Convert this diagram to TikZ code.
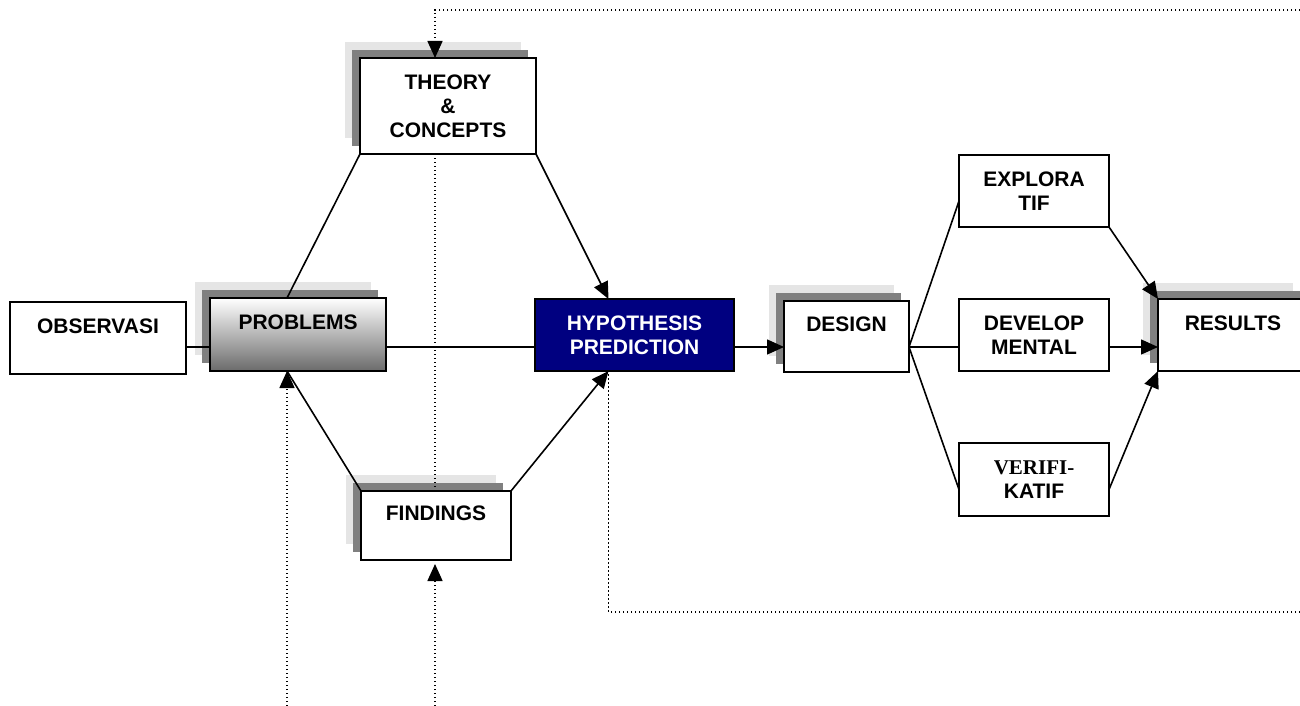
\documentclass[tikz,border=0pt]{standalone}
\usepackage{fontspec}
\setmainfont{Liberation Sans}
\newfontfamily\serifb{Liberation Serif}
\usetikzlibrary{arrows.meta,backgrounds}
\definecolor{navyb}{RGB}{0,0,128}
\definecolor{shdark}{RGB}{128,128,128}
\definecolor{shlight}{RGB}{229,229,229}
\begin{document}
\begin{tikzpicture}[x=1pt,y=-1pt,
 box/.style={draw=black, line width=1.8pt, fill=white, rectangle, anchor=north west, inner sep=0pt, outer sep=0pt, align=center, font=\fontsize{21}{24}\selectfont\bfseries},
 conn/.style={line width=1.6pt},
 arr/.style={conn, -{Triangle[length=17pt,width=15pt]}},
 dot/.style={line width=1.5pt, dash pattern=on 1.4pt off 2.6pt, black},
 darr/.style={dot, -{Triangle[length=17pt,width=15pt]}}
]
\useasboundingbox (0,0) rectangle (1300,706);
\clip (0,0) rectangle (1300,706);
\coordinate (row) at (0,347);

\node[box, minimum width=176pt, minimum height=72pt] (obs) at (10,302) {OBSERVASI\\\mbox{}};
\node[box, minimum width=176pt, minimum height=73pt, top color=white, bottom color=black!58] (prob) at (210,298) {PROBLEMS\\\mbox{}};
\node[box, minimum width=199pt, minimum height=72pt, fill=navyb, text=white] (hyp) at (535,299) {HYPOTHESIS\\PREDICTION};
\node[box, minimum width=125pt, minimum height=71pt] (des) at (784,301) {DESIGN\\\mbox{}};
\node[box, minimum width=176pt, minimum height=96pt] (theory) at (360,58) {THEORY\\\&\\CONCEPTS};
\node[box, minimum width=150pt, minimum height=69pt] (find) at (361,491) {FINDINGS\\\mbox{}};
\node[box, minimum width=150pt, minimum height=72pt] (expl) at (959,155) {EXPLORA\\TIF};
\node[box, minimum width=150pt, minimum height=72pt] (dev) at (959,299) {DEVELOP\\MENTAL};
\node[box, minimum width=150pt, minimum height=73pt] (ver) at (959,443) {{\serifb VERIFI-}\\KATIF};
\node[box, minimum width=150pt, minimum height=72pt] (res) at (1158,299) {RESULTS\\\mbox{}};

\begin{scope}[on background layer]
\foreach \nn in {theory,prob,des,find,res}{
 \fill[shlight] ([shift={(-15,-16)}]\nn.north west) rectangle ([shift={(-15,-16)}]\nn.south east);
 \fill[shdark] ([shift={(-8,-8)}]\nn.north west) rectangle ([shift={(-8,-8)}]\nn.south east);
}
\end{scope}

% solid connectors
\draw[conn] (obs.east |- row) -- (prob.west |- row);
\draw[conn] (prob.east |- row) -- (hyp.west |- row);
\draw[arr] (hyp.east |- row) -- (des.west |- row);
\draw[conn] (des.east |- row) -- (dev.west |- row);
\draw[conn] (des.east |- row) -- ([shift={(0,10)}]expl.west);
\draw[conn] (des.east |- row) -- ([shift={(0,10)}]ver.west);
\draw[arr] (dev.east |- row) -- (res.west |- row);
\draw[arr] (expl.south east) -- (res.north west);
\draw[arr] ([shift={(0,10)}]ver.east) -- (res.south west);
\draw[conn] (theory.south west) -- ([shift={(-11,0)}]prob.north);
\draw[arr] (theory.south east) -- ([shift={(-26,0)}]hyp.north);
\draw[conn] (find.north west) -- ([shift={(-11,0)}]prob.south);
\draw[arr] (find.north east) -- ([shift={(-26,0)}]hyp.south);

% dotted connectors
\coordinate (tr) at (1300,10);
\coordinate (br) at (1300,612);
\coordinate (bl1) at (287,706);
\coordinate (bl2) at (435,706);
\draw[darr] (tr) -| ([shift={(-13,0)}]theory.north);
\draw[dot] ([shift={(-13,0)}]theory.south) -- ([shift={(-1,0)}]find.north);
\draw[darr, shorten >=4pt] (bl2) -- ([shift={(-1,0)}]find.south);
\draw[darr] (bl1) -- ([shift={(-11,0)}]prob.south);
\draw[dot] (br) -| ([shift={(-26,0)}]hyp.south);
\end{tikzpicture}
\end{document}
